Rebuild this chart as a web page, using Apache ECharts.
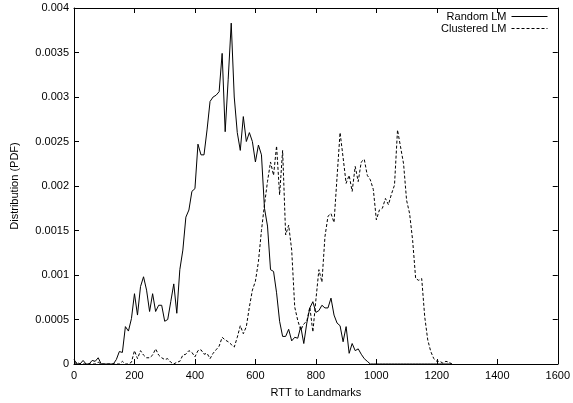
<!DOCTYPE html>
<html>
<head>
<meta charset="utf-8">
<script src="https://cdn.jsdelivr.net/npm/echarts@6/dist/echarts.min.js"></script>
<style>
  html, body { margin: 0; padding: 0; background: #fff; }
  #chart { width: 573px; height: 403px; }
</style>
</head>
<body>
<div id="chart"></div>
<script>
// RTT bins (ms)
const rttBins = [
  0, 10, 20, 30, 40, 50, 60, 70, 80, 90,
  100, 110, 120, 130, 140, 150, 160, 170, 180, 190,
  200, 210, 220, 230, 240, 250, 260, 270, 280, 290,
  300, 310, 320, 330, 340, 350, 360, 370, 380, 390,
  400, 410, 420, 430, 440, 450, 460, 470, 480, 490,
  500, 510, 520, 530, 540, 550, 560, 570, 580, 590,
  600, 610, 620, 630, 640, 650, 660, 670, 680, 690,
  700, 710, 720, 730, 740, 750, 760, 770, 780, 790,
  800, 810, 820, 830, 840, 850, 860, 870, 880, 890,
  900, 910, 920, 930, 940, 950, 960, 970, 980, 990,
  1000, 1010, 1020, 1030, 1040, 1050, 1060, 1070, 1080, 1090,
  1100, 1110, 1120, 1130, 1140, 1150, 1160, 1170, 1180, 1190,
  1200, 1210, 1220, 1230, 1240, 1250
];

const randomLM = [
  0.00005, 0, 0, 0.00004, 0, 0, 0.00004, 0.00003, 0.00007, 0,
  0, 0, 0, 0, 0.00005, 0.00014, 0.00013, 0.00042, 0.00037, 0.00051,
  0.00079, 0.00055, 0.00087, 0.00098, 0.00083, 0.00059, 0.00079, 0.00059, 0.00066, 0.00066,
  0.00048, 0.0005, 0.0007, 0.0009, 0.00057, 0.00106, 0.00128, 0.00165, 0.00173, 0.00194,
  0.00197, 0.00247, 0.00235, 0.00235, 0.00263, 0.00295, 0.003, 0.00302, 0.00306, 0.00349,
  0.00261, 0.0032, 0.00383, 0.003, 0.0026, 0.0024, 0.00278, 0.0025, 0.0026, 0.0025,
  0.00227, 0.00246, 0.00235, 0.00175, 0.00155, 0.00106, 0.00104, 0.0008, 0.00048, 0.00031,
  0.00031, 0.00039, 0.00026, 0.0003, 0.00029, 0.00042, 0.00023, 0.00046, 0.00063, 0.0007,
  0.00058, 0.0006, 0.00066, 0.00063, 0.00063, 0.00074, 0.00055, 0.00046, 0.00043, 0.00025,
  0.00042, 0.00012, 0.00023, 0.00015, 0.00017, 0.00011, 0.00006, 0.00003, 0, 0,
  0, 0, 0, 0, 0, 0, 0, 0, 0, 0,
  0, 0, 0, 0, 0, 0, 0, 0, 0, 0,
  0, 0, 0, 0, 0, 0
];

const clusteredLM = [
  0, 0.00002, 0, 0, 0, 0, 0, 0, 0.00002, 0,
  0, 0, 0, 0, 0, 0, 0.00003, 0, 0, 0.00002,
  0.00015, 0.00006, 0.00015, 0.0001, 0.00007, 0.00007, 0.0001, 0.00017, 0.0001, 0.00007,
  0.00005, 0.00006, 0.00002, 0, 0.00002, 0.00003, 0.0001, 0.00011, 0.00015, 0.00013,
  0.00008, 0.00015, 0.00016, 0.00011, 0.00012, 0.00006, 0.00012, 0.00016, 0.0002, 0.0003,
  0.00027, 0.00025, 0.00022, 0.00019, 0.0003, 0.00043, 0.00034, 0.00042, 0.00064, 0.00083,
  0.00093, 0.00115, 0.0015, 0.00179, 0.00205, 0.00227, 0.00212, 0.00245, 0.0019, 0.0024,
  0.00145, 0.00156, 0.00128, 0.00064, 0.00049, 0.00038, 0.00045, 0.00048, 0.00064, 0.00036,
  0.00072, 0.00106, 0.00092, 0.00143, 0.00166, 0.00169, 0.00159, 0.0021, 0.0026, 0.00232,
  0.00203, 0.00212, 0.00194, 0.00222, 0.00205, 0.00227, 0.0023, 0.00212, 0.00207, 0.00196,
  0.00162, 0.00173, 0.00175, 0.00186, 0.00179, 0.00191, 0.00201, 0.00263, 0.00244, 0.00225,
  0.00184, 0.00169, 0.00139, 0.00096, 0.00094, 0.00096, 0.00053, 0.00027, 0.00014, 0.00006,
  0.00003, 0.00003, 0.00001, 0.00003, 0.00002, 0
];

const xTicks = { min: 0, max: 1600, interval: 200 };
const yTicks = { min: 0, max: 0.004, interval: 0.0005 };

const font = 'Liberation Sans, Arial, sans-serif';
const pairs = (ys) => rttBins.map((x, i) => [x, ys[i]]);

const chart = echarts.init(document.getElementById('chart'), null, { renderer: 'canvas' });

const boxAxis = (extra) => Object.assign({
  type: 'value',
  axisLine: { show: true, onZero: false, lineStyle: { color: '#000', width: 1 } },
  axisTick: { show: true, inside: true, length: 5, lineStyle: { color: '#000' } },
  splitLine: { show: false },
  axisLabel: { show: false }
}, extra);

chart.setOption({
  animation: false,
  backgroundColor: '#fff',
  grid: { left: 74, right: 13, top: 8, bottom: 39 },
  legend: {
    right: 25,
    top: 11,
    padding: 0,
    orient: 'vertical',
    align: 'right',
    itemWidth: 36,
    itemHeight: 10,
    itemGap: 1,
    itemStyle: { opacity: 0 },
    lineStyle: { width: 1 },
    textStyle: { fontFamily: font, fontSize: 11, lineHeight: 10, color: '#000' },
    data: ['Random LM', 'Clustered LM']
  },
  xAxis: [
    boxAxis(Object.assign({
      position: 'bottom',
      name: 'RTT to Landmarks',
      nameLocation: 'middle',
      nameGap: 23,
      nameTextStyle: { fontFamily: font, fontSize: 11, color: '#000' },
      axisLabel: {
        show: true, margin: 6, fontFamily: font, fontSize: 11, color: '#000',
        formatter: (v) => String(v)
      }
    }, xTicks)),
    boxAxis(Object.assign({ position: 'top' }, xTicks))
  ],
  yAxis: [
    boxAxis(Object.assign({
      position: 'left',
      name: 'Distribution (PDF)',
      nameLocation: 'middle',
      nameGap: 54,
      nameRotate: 90,
      nameTextStyle: { fontFamily: font, fontSize: 11, color: '#000' },
      axisLabel: {
        show: true, margin: 5, fontFamily: font, fontSize: 11, color: '#000',
        formatter: (v) => String(parseFloat(v.toFixed(6)))
      }
    }, yTicks)),
    boxAxis(Object.assign({ position: 'right' }, yTicks))
  ],
  series: [
    {
      name: 'Random LM',
      type: 'line',
      data: pairs(randomLM),
      symbol: 'none',
      lineStyle: { color: '#000', width: 1, type: 'solid' },
      itemStyle: { color: '#000' }
    },
    {
      name: 'Clustered LM',
      type: 'line',
      data: pairs(clusteredLM),
      symbol: 'none',
      lineStyle: { color: '#000', width: 1, type: [3, 2] },
      itemStyle: { color: '#000' }
    }
  ]
});
</script>
</body>
</html>
